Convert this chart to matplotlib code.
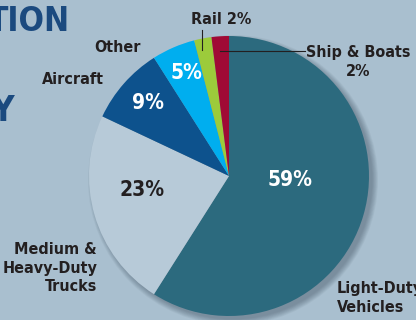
import matplotlib.pyplot as plt
from matplotlib.patches import Circle

# data
cats = ["Light-Duty\nVehicles", "Medium &\nHeavy-Duty\nTrucks", "Aircraft", "Other", "Rail", "Ship & Boats"]
vals = [59, 23, 9, 5, 2, 2]
cols = ["#2c6a7e", "#b7cad8", "#0d528d", "#00aeef", "#9ccb3b", "#a00a35"]

bg = "#a9bfcf"
ink = "#231f20"
fnt = "DejaVu Sans"

fig = plt.figure(figsize=(4.16, 3.2), dpi=100)
fig.patch.set_facecolor(bg)
ax = fig.add_axes([0, 0, 1, 1])
ax.set_xlim(0, 416)
ax.set_ylim(0, 320)
ax.set_aspect("equal")
ax.axis("off")

cx, cy, R = 229, 144, 140

# soft drop shadow
for i in range(8):
    ax.add_patch(Circle((cx + 4, cy - 4), R + 5 - i * 0.8, color="#2a3a48", alpha=0.05, lw=0))

ax.pie(vals, colors=cols, startangle=90, counterclock=False, center=(cx, cy), radius=R,
       wedgeprops=dict(linewidth=0))
ax.set_xlim(0, 416)
ax.set_ylim(0, 320)

tk = dict(fontweight="bold", family=fnt, stretch="condensed")

# percent labels inside
pct_pos = [(290, 140), (142, 130), (148, 217), (186, 247)]
for (x, y), v in zip(pct_pos, vals[:4]):
    ax.text(x, y, f"{v}%", color="white" if v != 23 else ink, ha="center", va="center",
            fontsize=15, **tk)

# category labels
ax.text(337, 22, cats[0], ha="left", va="center", fontsize=11.5, color=ink, linespacing=1.3, **tk)
ax.text(97, 52, cats[1], ha="right", va="center", fontsize=11.5, color=ink, linespacing=1.3, **tk)
ax.text(104, 240, cats[2], ha="right", va="center", fontsize=11.5, color=ink, **tk)
ax.text(141, 273, cats[3], ha="right", va="center", fontsize=11.5, color=ink, **tk)
ax.text(221, 301, f"{cats[4]} {vals[4]}%", ha="center", va="center", fontsize=11.5, color=ink, **tk)
ax.text(358, 258, f"{cats[5]}\n{vals[5]}%", ha="center", va="center", fontsize=11.5, color=ink,
        linespacing=1.3, **tk)

# leader lines
ax.plot([202, 202], [290, 270], color=ink, lw=0.8)
ax.plot([220, 305], [269, 269], color=ink, lw=0.8)

# cut-off heading text at left edge
fig.text(-0.03, 0.985, "TION", ha="left", va="top", fontsize=24, color="#1b4a7f", **tk)
fig.text(-0.022, 0.705, "Y", ha="left", va="top", fontsize=25, color="#1b4a7f", **tk)

fig.savefig("out.png", dpi=100, facecolor=bg)
